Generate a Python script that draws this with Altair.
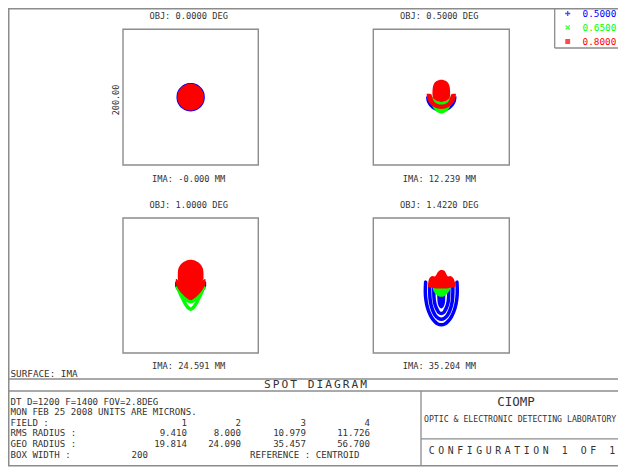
import altair as alt
import pandas as pd

# ---------------- text content / table values ----------------
OBJ_LABELS = ["OBJ: 0.0000 DEG", "OBJ: 0.5000 DEG", "OBJ: 1.0000 DEG", "OBJ: 1.4220 DEG"]
IMA_LABELS = ["IMA: -0.000 MM", "IMA: 12.239 MM", "IMA: 24.591 MM", "IMA: 35.204 MM"]
WAVELENGTHS = ["0.5000", "0.6500", "0.8000"]
WAVE_COLORS = ["#0000ff", "#00ff00", "#ff0000"]
FIELDS = [1, 2, 3, 4]
RMS_RADIUS = [9.410, 8.000, 10.979, 11.726]
GEO_RADIUS = [19.814, 24.090, 35.457, 56.700]
BOX_WIDTH = 200
SCALE_LABEL = "200.00"
SURFACE = "SURFACE: IMA"
HEADER = "SPOT DIAGRAM"
TITLE_LINE = "DT D=1200 F=1400 FOV=2.8DEG"
DATE_LINE = "MON FEB 25 2008 UNITS ARE MICRONS."
ROW_LABELS = ["FIELD      :", "RMS RADIUS :", "GEO RADIUS :", "BOX WIDTH  :"]
REFERENCE = "REFERENCE : CENTROID"
COMPANY = "CIOMP"
LAB = "OPTIC & ELECTRONIC DETECTING LABORATORY"
CONFIG = "CONFIGURATION 1 OF 1"

# ---------------- spot outlines (microns, relative to centroid) ----------------
# Field 1
F1_BLUE_X = [-21, -20.5, -19.5, -18, -16, -13, -9, -5, 0, 5, 9, 13, 16, 18, 19.5, 20.5, 21]
F1_BLUE_LO = [0, -4.6, -7.8, -10.8, -13.6, -16.5, -19.0, -20.4, -21, -20.4, -19.0, -16.5, -13.6, -10.8, -7.8, -4.6, 0]
F1_BLUE_HI = [0, 4.6, 7.8, 10.8, 13.6, 16.5, 19.0, 20.4, 21, 20.4, 19.0, 16.5, 13.6, 10.8, 7.8, 4.6, 0]
F1_RED_X = [-19.7, -19.2, -18.3, -17, -15, -12, -8, -4, 0, 4, 8, 12, 15, 17, 18.3, 19.2, 19.7]
F1_RED_LO = [0, -4.4, -7.3, -9.9, -12.8, -15.6, -18.0, -19.3, -19.7, -19.3, -18.0, -15.6, -12.8, -9.9, -7.3, -4.4, 0]
F1_RED_HI = [0, 4.4, 7.3, 9.9, 12.8, 15.6, 18.0, 19.3, 19.7, 19.3, 18.0, 15.6, 12.8, 9.9, 7.3, 4.4, 0]

# Field 2
F2_BLUE_X = [-22.5, -22, -20, -17, -14, -10, -5, 0, 5, 10, 14, 17, 20, 22, 22.5]
F2_BLUE_LO = [1, -3.7, -9.3, -13.7, -16.6, -19.2, -20.9, -21.5, -20.9, -19.2, -16.6, -13.7, -9.3, -3.7, 1]
F2_BLUE_HI = [1, 1, 1, -2, -6, -9, -11, -11.5, -11, -9, -6, -2, 1, 1, 1]
F2_GREEN_X = [-16, -14, -12, -10, -5, 0, 5, 10, 12, 14, 16]
F2_GREEN_LO = [-6, -12, -15.5, -18.5, -22.5, -24, -22.5, -18.5, -15.5, -12, -6]
F2_GREEN_HI = [2, 1, 0, -3, -6, -6.5, -6, -3, 0, 1, 2]
F2_RED_BAND_X = [-21.5, -21, -20, -17, -14.5, -13, -10, -5, 0, 5, 10, 13, 14.5, 17, 20, 21, 21.5]
F2_RED_BAND_LO = [4, -0.6, -3.9, -9.2, -11.9, -13.1, -15, -16.9, -17.5, -16.9, -15, -13.1, -11.9, -9.2, -3.9, -0.6, 4]
F2_RED_BAND_HI = [5, 5, 5, 5, 4, -1, -7.2, -10.1, -11, -10.1, -7.2, -1, 4, 5, 5, 5, 5]
F2_RED_CORE_X = [-13, -12.5, -11, -8, -4, 0, 4, 8, 11, 12.5, 13]
F2_RED_CORE_LO = [4, 0, -2.5, -5, -6.5, -7, -6.5, -5, -2.5, 0, 4]
F2_RED_CORE_HI = [8, 14, 19, 23, 25, 25.5, 25, 23, 19, 14, 8]

# Field 3
F3_BLUE_X = [-23, -22, -20, -16, -12, -8, -4, 0, 4, 8, 12, 16, 20, 22, 23]
F3_BLUE_LO = [-1, -3, -7, -12, -16, -20, -23, -24, -23, -20, -16, -12, -7, -3, -1]
F3_BLUE_HI = [5, 6, 5, 0, -5, -9, -12, -13, -12, -9, -5, 0, 5, 6, 5]
F3_GREEN_A_X = [-20, -17, -14, -10, -6, -3, 0, 3, 6, 10, 14, 17, 20]
F3_GREEN_A_Y = [-3, -7, -11, -16, -20.5, -23, -24, -23, -20.5, -16, -11, -7, -3]
F3_GREEN_B_X = [-17, -15, -12, -9, -6, -3, 0, 3, 6, 9, 12, 15, 17]
F3_GREEN_B_Y = [-8, -13, -19, -25, -30, -33.5, -35, -33.5, -30, -25, -19, -13, -8]
F3_RED_BAND_X = [-22, -21, -20, -16, -12, -8, -4, 0, 4, 8, 12, 16, 20, 21, 22]
F3_RED_BAND_LO = [3, 0, -2, -8.5, -13, -17, -20, -21.5, -20, -17, -13, -8.5, -2, 0, 3]
F3_RED_BAND_HI = [9, 9.5, 9, 6, 1, -4, -8, -9, -8, -4, 1, 6, 9, 9.5, 9]
F3_RED_TOP_X = [-19, -18.5, -17, -14, -11, -7, -3, 0, 3, 7, 11, 14, 17, 18.5, 19]
F3_RED_TOP_LO = [10, 8, 6, 2, -2.5, -9, -13.5, -15, -13.5, -9, -2.5, 2, 6, 8, 10]
F3_RED_TOP_HI = [19, 23.3, 27.5, 31.8, 34.5, 36.7, 37.8, 38, 37.8, 36.7, 34.5, 31.8, 27.5, 23.3, 19]

# Field 4
F4_BLUE_R1_X = [-23, -23.5, -23, -21.5, -19, -15, -10, -5, 0, 5, 10, 15, 19, 21.5, 23, 23.5, 23]
F4_BLUE_R1_Y = [5, -8, -18, -28, -37, -46, -53, -57, -58, -57, -53, -46, -37, -28, -18, -8, 5]
F4_BLUE_R2_X = [-17, -17, -16.5, -15, -12.5, -9, -4.5, 0, 4.5, 9, 12.5, 15, 16.5, 17, 17]
F4_BLUE_R2_Y = [0, -10, -20, -29, -37, -44, -48.5, -50, -48.5, -44, -37, -29, -20, -10, 0]
F4_BLUE_R3_X = [-11, -11, -10.5, -9, -6.5, -3.5, 0, 3.5, 6.5, 9, 10.5, 11, 11]
F4_BLUE_R3_Y = [-3, -12, -21, -29, -35, -40, -41.5, -40, -35, -29, -21, -12, -3]
F4_BLUE_CORE_X = [-6, -5.5, -4, -2, 0, 2, 4, 5.5, 6]
F4_BLUE_CORE_LO = [-15, -24, -30, -33, -34, -33, -30, -24, -15]
F4_BLUE_CORE_HI = [-3, -3, -3, -3, -3, -3, -3, -3, -3]
F4_GREEN_X = [-12.5, -12, -10, -6, -2, 2, 6, 10, 13, 13.5]
F4_GREEN_LO = [-3, -6, -10.5, -14.5, -16.5, -16.5, -14.5, -10.5, -5, -3]
F4_GREEN_HI = [0, 0, 0, 0, 0, 0, 0, 0, 0, 0]
F4_RED_X = [-19.5, -18.5, -16, -13, -10, -8, -5, -2, 0, 3, 6, 8, 10, 13, 16, 19, 20.5]
F4_RED_LO = [-1, -2.5, -3, -3.5, -4, -4.5, -4.5, -4.5, -4.5, -4.5, -4.5, -4.5, -4, -3.5, -3, -2.5, -1]
F4_RED_HI = [2, 8, 12.5, 14, 13.5, 15, 20, 22.5, 23, 22.5, 20, 15.5, 13.5, 14, 12.5, 8, 2]

AREAS = [  # (field index, wavelength index, x, lower edge, upper edge)
    (0, 0, F1_BLUE_X, F1_BLUE_LO, F1_BLUE_HI),
    (0, 2, F1_RED_X, F1_RED_LO, F1_RED_HI),
    (1, 0, F2_BLUE_X, F2_BLUE_LO, F2_BLUE_HI),
    (1, 1, F2_GREEN_X, F2_GREEN_LO, F2_GREEN_HI),
    (1, 2, F2_RED_BAND_X, F2_RED_BAND_LO, F2_RED_BAND_HI),
    (1, 2, F2_RED_CORE_X, F2_RED_CORE_LO, F2_RED_CORE_HI),
    (2, 0, F3_BLUE_X, F3_BLUE_LO, F3_BLUE_HI),
    (2, 2, F3_RED_BAND_X, F3_RED_BAND_LO, F3_RED_BAND_HI),
    (2, 2, F3_RED_TOP_X, F3_RED_TOP_LO, F3_RED_TOP_HI),
    (3, 0, F4_BLUE_CORE_X, F4_BLUE_CORE_LO, F4_BLUE_CORE_HI),
    (3, 1, F4_GREEN_X, F4_GREEN_LO, F4_GREEN_HI),
    (3, 2, F4_RED_X, F4_RED_LO, F4_RED_HI),
]
LINES = [  # (field index, wavelength index, x, y)
    (2, 1, F3_GREEN_A_X, F3_GREEN_A_Y),
    (2, 1, F3_GREEN_B_X, F3_GREEN_B_Y),
    (3, 0, F4_BLUE_R1_X, F4_BLUE_R1_Y),
    (3, 0, F4_BLUE_R2_X, F4_BLUE_R2_Y),
    (3, 0, F4_BLUE_R3_X, F4_BLUE_R3_Y),
]

# ---------------- styling / layout ----------------
MONO = "DejaVu Sans Mono"
INK = "#333333"
FRAME = "#8c8c8c"
W, H = 610, 459
PANEL_X = [(115, 250.3), (365.3, 501.3), (115, 250.3), (365.3, 501.3)]
PANEL_Y = [(157, 21.3), (157, 21.3), (345, 210), (345, 210)]
OBJ_Y = [8.3, 8.3, 197, 197]
IMA_Y = [171, 171, 358.3, 358.3]
TABLE_FONT = 9.1
ROW_Y = [393.5, 404.1, 414.7, 425.3, 435.9, 446.5]
COL_RIGHT = [179, 233, 298, 362]

area_rows = []
for pid, (f, w, xs, lo, hi) in enumerate(AREAS):
    for x, a, b in zip(xs, lo, hi):
        area_rows.append({"field": f, "w": w, "pid": pid, "x": x, "lo": a, "hi": b})
area_df = pd.DataFrame(area_rows)

line_rows = []
for pid, (f, w, xs, ys) in enumerate(LINES):
    for i, (x, y) in enumerate(zip(xs, ys)):
        line_rows.append({"field": f, "w": w, "pid": pid, "i": i, "x": x, "y": y})
line_df = pd.DataFrame(line_rows)


def text_mark(s, x, y, size, align="left", color=INK, angle=0):
    return alt.Chart(pd.DataFrame({"t": [s]})).mark_text(
        font=MONO, fontSize=size, align=align, baseline="middle", color=color, angle=angle
    ).encode(x=alt.value(x), y=alt.value(y), text="t:N")


def spaced_text(s, x0, pitch, y, size, color=INK):
    df = pd.DataFrame({"c": list(s), "i": list(range(len(s)))})
    return alt.Chart(df).transform_calculate(
        px=f"{x0} + datum.i * {pitch}"
    ).mark_text(font=MONO, fontSize=size, align="center", baseline="middle", color=color).encode(
        x=alt.X("px:Q", scale=None, axis=None), y=alt.value(y), text="c:N"
    )


def rule(x1, y1, x2, y2, color=FRAME, width=1.3):
    return alt.Chart(pd.DataFrame({"k": [0]})).mark_rule(color=color, strokeWidth=width).encode(
        x=alt.value(x1), x2=alt.value(x2), y=alt.value(y1), y2=alt.value(y2)
    )


def panel(k):
    half = BOX_WIDTH / 2
    xs = alt.Scale(domain=[-half, half], range=list(PANEL_X[k]))
    ys = alt.Scale(domain=[-half, half], range=list(PANEL_Y[k]))
    box = alt.Chart(pd.DataFrame({"a": [-half], "b": [half]})).mark_rect(
        fill="white", stroke=FRAME, strokeWidth=1.4
    ).encode(
        x=alt.X("a:Q", scale=xs, axis=None), x2="b:Q",
        y=alt.Y("a:Q", scale=ys, axis=None), y2="b:Q",
    )
    layers = [box]
    for w, col in enumerate(WAVE_COLORS):
        a = area_df[(area_df.field == k) & (area_df.w == w)]
        if len(a):
            layers.append(
                alt.Chart(a).mark_area(interpolate="monotone", orient="vertical", color=col).encode(
                    x=alt.X("x:Q", scale=xs, axis=None),
                    y=alt.Y("lo:Q", scale=ys, axis=None),
                    y2="hi:Q",
                    detail="pid:N",
                )
            )
        ln = line_df[(line_df.field == k) & (line_df.w == w)]
        if len(ln):
            layers.append(
                alt.Chart(ln).mark_line(interpolate="catmull-rom", color=col, strokeWidth=3.5, strokeCap="round").encode(
                    x=alt.X("x:Q", scale=xs, axis=None),
                    y=alt.Y("y:Q", scale=ys, axis=None),
                    order="i:Q",
                    detail="pid:N",
                )
            )
    cx = (PANEL_X[k][0] + PANEL_X[k][1]) / 2 - 2
    layers.append(text_mark(OBJ_LABELS[k], cx, OBJ_Y[k], 8.7, align="center"))
    layers.append(text_mark(IMA_LABELS[k], cx, IMA_Y[k], 8.7, align="center"))
    return alt.layer(*layers)


# legend (wavelengths)
leg_df = pd.DataFrame({"wave": WAVELENGTHS})
leg_y = alt.Y("wave:N", scale=alt.Scale(domain=WAVELENGTHS, range=[5.5, 33.5], padding=0), axis=None)
leg_color = alt.Color("wave:N", scale=alt.Scale(domain=WAVELENGTHS, range=WAVE_COLORS), legend=None)
legend_symbols = alt.Chart(leg_df).mark_point(filled=False, size=26, strokeWidth=1.3).encode(
    x=alt.value(559.7),
    y=leg_y,
    color=leg_color,
    shape=alt.Shape("wave:N", scale=alt.Scale(domain=WAVELENGTHS, range=[
        "M-1,0L1,0M0,-1L0,1", "M-0.8,-0.8L0.8,0.8M-0.8,0.8L0.8,-0.8", "M-0.7,-0.7L0.7,-0.7L0.7,0.7L-0.7,0.7Z"
    ]), legend=None),
    fill=alt.Fill("wave:N", scale=alt.Scale(domain=WAVELENGTHS, range=["transparent", "transparent", "#ff0000"]), legend=None),
)
legend_text = alt.Chart(leg_df).mark_text(font=MONO, fontSize=9.4, align="left", baseline="middle").encode(
    x=alt.value(574.5), y=leg_y, color=leg_color, text="wave:N"
)

# ---------------- assemble ----------------
layers = [
    rule(0, 0.75, W, 0.75, width=1.5),
    rule(0.75, 0, 0.75, 457.8, width=1.5),
    rule(546.7, 0, 546.7, 40),
    rule(546.7, 40, W, 40),
]
layers += [panel(k) for k in range(4)]
layers += [
    text_mark(SCALE_LABEL, 107.8, 92, 8.5, align="center", angle=270),
    legend_symbols,
    legend_text,
    text_mark(SURFACE, 2.5, 365.5, 9.3),
    rule(0, 371, W, 371),
    spaced_text(HEADER, 259.4, 8.75, 377, 11.2),
    rule(0, 383, W, 383),
    rule(0, 457.8, W, 457.8, width=1.5),
    rule(413, 383, 413, 457.8),
    rule(413, 430.8, W, 430.8),
    text_mark(TITLE_LINE, 2.5, ROW_Y[0], TABLE_FONT),
    text_mark(DATE_LINE, 2.5, ROW_Y[1], TABLE_FONT),
]
for lab, yy in zip(ROW_LABELS, ROW_Y[2:]):
    layers.append(text_mark(lab, 2.5, yy, TABLE_FONT))
for i in range(4):
    layers.append(text_mark(str(FIELDS[i]), COL_RIGHT[i], ROW_Y[2], TABLE_FONT, align="right"))
    layers.append(text_mark(f"{RMS_RADIUS[i]:.3f}", COL_RIGHT[i], ROW_Y[3], TABLE_FONT, align="right"))
    layers.append(text_mark(f"{GEO_RADIUS[i]:.3f}", COL_RIGHT[i], ROW_Y[4], TABLE_FONT, align="right"))
layers += [
    text_mark(str(BOX_WIDTH), 123.5, ROW_Y[5], TABLE_FONT),
    text_mark(REFERENCE, 242, ROW_Y[5], TABLE_FONT),
    text_mark(COMPANY, 508, 394, 12.5, align="center"),
    text_mark(LAB, 416, 411.5, 8.2),
    spaced_text(CONFIG, 423.75, 9.5, 443, 9.8),
]

chart = alt.layer(*layers).resolve_scale(
    x="independent", y="independent"
).properties(
    width=W, height=H, autosize=alt.AutoSizeParams(type="none"), padding=0, background="white"
).configure_view(strokeWidth=0)

chart.save("out.html", embed_options={"renderer": "svg", "actions": False})
